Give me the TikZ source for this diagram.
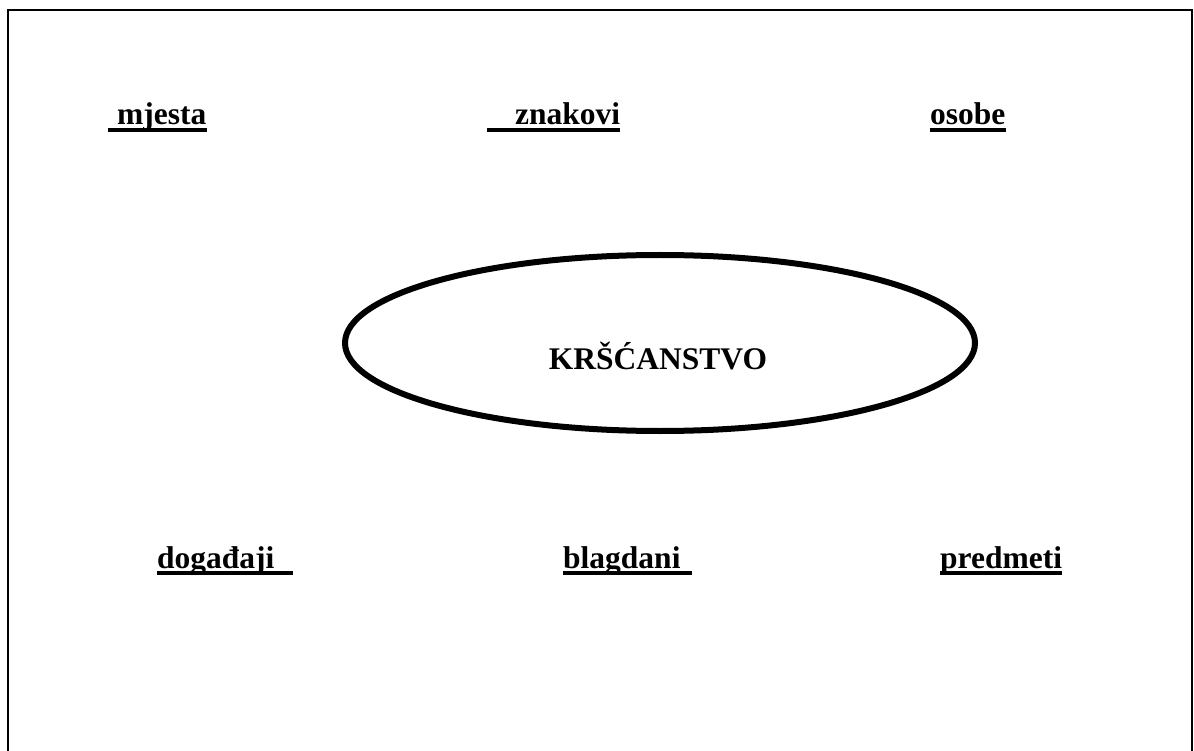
\documentclass[tikz,border=0pt]{standalone}
\usepackage{fontspec}
\setmainfont{Liberation Serif}
\usetikzlibrary{shapes.geometric}
\begin{document}
\begin{tikzpicture}[x=1pt,y=-1pt,
  lbl/.style={anchor=base west,inner sep=0pt,font=\fontsize{31.5}{36}\selectfont\bfseries},
  ul/.style={line width=4pt}]
\useasboundingbox (0,0) rectangle (1194,751);
\draw[line width=2pt] (8,760) -- (8,10) -- (1192,10) -- (1192,760);
% ellipse
\node[draw,ellipse,line width=6pt,minimum width=630pt,minimum height=176pt,inner sep=0pt] (e) at (660,343) {};
\node[anchor=base,inner sep=0pt,font=\fontsize{31.5}{36}\selectfont\bfseries] (k) at (658,369) {KRŠĆANSTVO};
% labels
\node[lbl] (m) at (108,125) {\kern9pt mjesta};
\node[lbl] (z) at (487,125) {\kern28pt znakovi};
\node[lbl] (o) at (930,125) {osobe};
\node[lbl] (d) at (157,568) {događaji\kern18pt\relax};
\node[lbl] (b) at (563,568) {blagdani\kern11pt\relax};
\node[lbl] (p) at (940,568) {predmeti};
\foreach \n in {m,z,o,d,b,p}{
  \draw[ul] ([yshift=-5pt]\n.base west) -- ([yshift=-5pt]\n.base east);
}
\end{tikzpicture}
\end{document}
